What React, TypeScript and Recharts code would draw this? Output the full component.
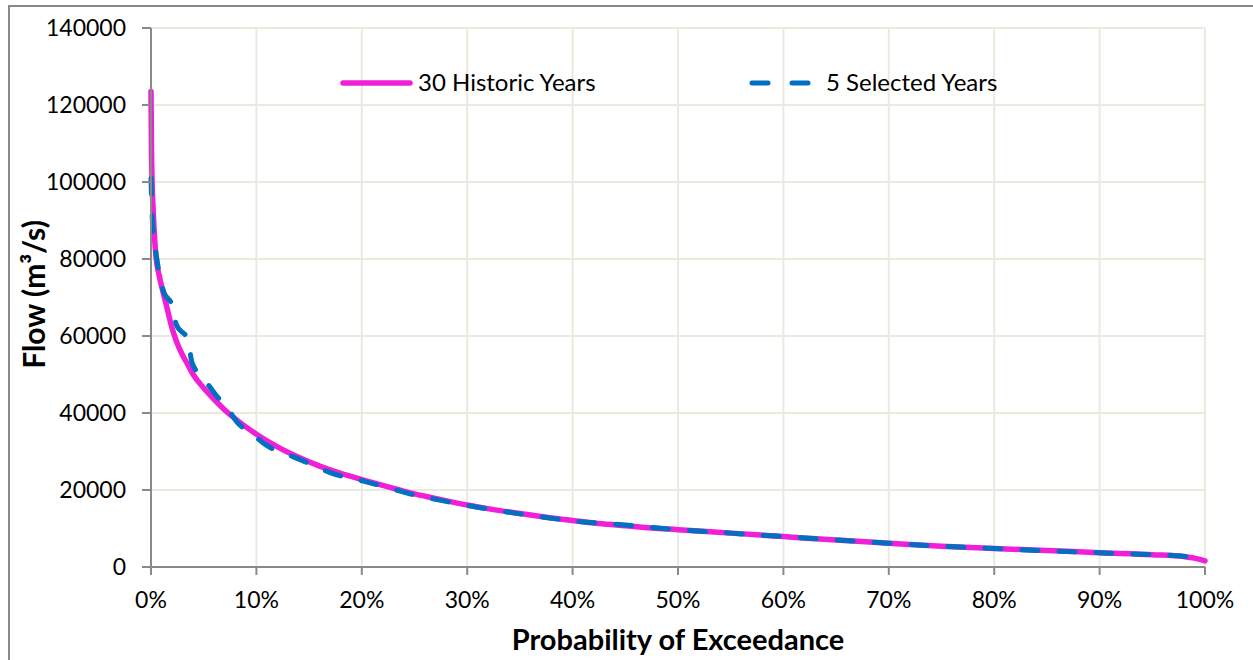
import { LineChart, Line, XAxis, YAxis, CartesianGrid, Legend } from 'recharts'

// probability of exceedance (%) and flow (m3/s)
const historicP = [0, 0.05, 0.1, 0.2, 0.35, 0.5, 0.75, 1, 1.5, 2, 2.5, 3, 3.5, 4, 5, 6, 7, 8, 9, 10, 12, 14, 16, 18, 20, 22.5, 25, 27.5, 30, 32.5, 35, 37.5, 40, 42.5, 45, 47.5, 50, 55, 60, 65, 70, 75, 80, 85, 90, 95, 98, 99, 100]
const historicFlow = [123500, 108000, 100500, 93000, 85000, 80000, 76000, 73000, 67500, 62000, 58000, 55000, 52500, 50000, 46500, 43500, 40800, 38500, 36400, 34500, 31200, 28500, 26200, 24300, 22700, 20800, 19000, 17500, 16100, 14900, 13900, 12900, 12100, 11300, 10700, 10100, 9700, 8800, 7900, 7000, 6200, 5400, 4800, 4300, 3700, 3200, 2700, 2300, 1600]

const selectedP = [0, 0.1, 0.3, 0.5, 0.8, 1.2, 2, 2.4, 3.5, 3.9, 5, 6.2, 7.2, 8.2, 9.4, 11, 13, 15, 17, 20, 22.5, 25, 27.5, 30, 35, 40, 45, 50, 55, 60, 65, 70, 75, 80, 85, 90, 95, 98, 100]
const selectedFlow = [101000, 92000, 85000, 81000, 76000, 71500, 68000, 63000, 59000, 53000, 49000, 44500, 41500, 37500, 35000, 31500, 29200, 26900, 24500, 22400, 20600, 18700, 17300, 16000, 13800, 12000, 10900, 9700, 8800, 7900, 7000, 6200, 5400, 4800, 4200, 3700, 3200, 2800, 2100]

const xTicks = [0, 10, 20, 30, 40, 50, 60, 70, 80, 90, 100]
const yTicks = [0, 20000, 40000, 60000, 80000, 100000, 120000, 140000]

const historic = historicP.map((p, i) => ({ p, flow: historicFlow[i] }))
const selected = selectedP.map((p, i) => ({ p, flow: selectedFlow[i] }))

const PINK = '#F01FD8'
const BLUE = '#0070C0'
const AXIS = '#898989'
const GRID = '#ECE9DF'
const FONT = 'Lato, sans-serif'

function LegendBox() {
    return (
        <svg width={1253} height={36} style={{ display: 'block' }}>
            <line x1={343} y1={17} x2={410} y2={17} stroke={PINK} strokeWidth={5.5} strokeLinecap="round" />
            <text x={418} y={25} fontSize={24} fill="#000" fontFamily={FONT}>30 Historic Years</text>
            <line x1={752} y1={17} x2={808} y2={17} stroke={BLUE} strokeWidth={5} strokeLinecap="round" strokeDasharray="16 24" />
            <text x={826} y={25} fontSize={24} fill="#000" fontFamily={FONT}>5 Selected Years</text>
        </svg>
    )
}

export default function App() {
    const tick = { fill: '#000', fontSize: 23, fontFamily: FONT }
    return (
        <div style={{ position: 'fixed', left: 0, top: 0, width: 1253, height: 660, background: '#fff', fontFamily: FONT, overflow: 'hidden' }}>
            <div style={{
                position: 'absolute', left: 8, top: 5, width: 1245, height: 655,
                borderLeft: `2px solid ${AXIS}`, borderTop: `2px solid ${AXIS}`,
            }} />
            <div style={{ position: 'absolute', left: 0, top: 0 }}>
                <LineChart width={1253} height={660} margin={{ top: 28, right: 48, bottom: 0, left: 0 }}>
                    <CartesianGrid stroke={GRID} strokeWidth={2} />
                    <XAxis
                        type="number"
                        dataKey="p"
                        domain={[0, 100]}
                        ticks={xTicks}
                        tickFormatter={(v) => `${v}%`}
                        height={93}
                        tick={tick}
                        tickSize={8}
                        tickMargin={17}
                        stroke={AXIS}
                        axisLine={{ stroke: AXIS, strokeWidth: 2 }}
                        tickLine={{ stroke: AXIS, strokeWidth: 2 }}
                        label={(props: any) => {
                            const vb = props.viewBox
                            return (
                                <text x={vb.x + vb.width / 2} y={650} textAnchor="middle" fontSize={29} fontWeight="bold" fontFamily={FONT} fill="#000">
                                    Probability of Exceedance
                                </text>
                            )
                        }}
                    />
                    <YAxis
                        type="number"
                        domain={[0, 140000]}
                        ticks={yTicks}
                        width={151}
                        tick={tick}
                        tickSize={9}
                        tickMargin={16}
                        stroke={AXIS}
                        axisLine={{ stroke: AXIS, strokeWidth: 2 }}
                        tickLine={{ stroke: AXIS, strokeWidth: 2 }}
                        label={(props: any) => {
                            const vb = props.viewBox
                            const cy = vb.y + vb.height / 2
                            return (
                                <text transform={`translate(45, ${cy - 3}) rotate(-90)`} textAnchor="middle" fontSize={30} fontWeight="bold" fontFamily={FONT} fill="#000">
                                    Flow (m³/s)
                                </text>
                            )
                        }}
                    />
                    <Legend
                        layout="horizontal"
                        verticalAlign="middle"
                        align="center"
                        wrapperStyle={{ position: 'absolute', top: 66, left: 0, width: 1253 }}
                        content={() => <LegendBox />}
                    />
                    <Line
                        data={historic}
                        dataKey="flow"
                        name="30 Historic Years"
                        type="monotone"
                        stroke={PINK}
                        strokeWidth={5.5}
                        strokeLinecap="round"
                        dot={false}
                        activeDot={false}
                        isAnimationActive={false}
                    />
                    <Line
                        data={selected}
                        dataKey="flow"
                        name="5 Selected Years"
                        type="monotone"
                        stroke={BLUE}
                        strokeWidth={5}
                        strokeLinecap="round"
                        strokeDasharray="16 21"
                        dot={false}
                        activeDot={false}
                        isAnimationActive={false}
                    />
                </LineChart>
            </div>
        </div>
    )
}
